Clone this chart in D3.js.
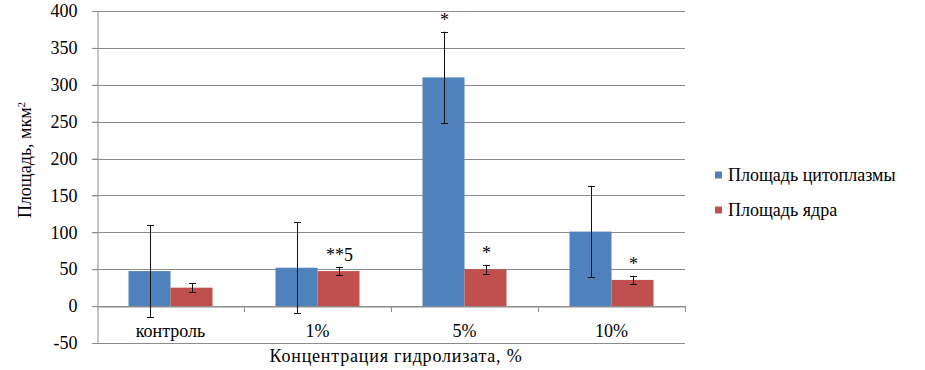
<!DOCTYPE html>
<html>
<head>
<meta charset="utf-8">
<script src="https://cdn.jsdelivr.net/npm/d3@7"></script>
<style>
  body { margin: 0; background: #fff; }
  svg text { font-family: "Liberation Serif", "Times New Roman", Times, Tinos, "DejaVu Serif", "Noto Serif", serif; fill: #000; }
</style>
</head>
<body>
<div id="chart"></div>
<script>
// Данные
const categories = ["контроль", "1%", "5%", "10%"];
const seriesNames = ["Площадь цитоплазмы", "Площадь ядра"];
const cytoplasm = [47.5, 52, 310, 101];
const cytoplasmErr = [62, 62, 62, 62];
const nucleus = [25, 47.5, 50, 35.5];
const nucleusErr = [5.7, 5.7, 6.1, 5.6];
const cytoplasmMarks = ["", "", "*", ""];
const nucleusMarks = ["", "**5", "*", "*"];
const yTicks = [-50, 0, 50, 100, 150, 200, 250, 300, 350, 400];
const colors = ["#4F81BD", "#C0504D"];

const width = 925;
const height = 370;
const margin = { top: 11, right: 240, bottom: 27, left: 97 };
const serif = '"Liberation Serif", "Times New Roman", Times, Tinos, "DejaVu Serif", "Noto Serif", serif';
const fs = 18;

const series = [
  { name: seriesNames[0], values: cytoplasm, err: cytoplasmErr, marks: cytoplasmMarks, color: colors[0] },
  { name: seriesNames[1], values: nucleus, err: nucleusErr, marks: nucleusMarks, color: colors[1] }
];

const svg = d3.select("#chart")
  .append("svg")
  .attr("width", width)
  .attr("height", height)
  .style("font-family", serif);

// Шкалы
const x = d3.scaleBand()
  .domain(categories)
  .range([margin.left, width - margin.right])
  .padding(0);

const groupWidth = 84;
const x1 = d3.scaleBand()
  .domain(seriesNames)
  .range([0, groupWidth])
  .padding(0);

const y = d3.scaleLinear()
  .domain([-50, 400])
  .range([height - margin.bottom, margin.top]);

// Сетка
svg.append("g")
  .selectAll("line")
  .data(yTicks)
  .enter()
  .append("line")
  .attr("x1", margin.left - 5)
  .attr("x2", width - margin.right)
  .attr("y1", (d) => Math.round(y(d)) + 0.5)
  .attr("y2", (d) => Math.round(y(d)) + 0.5)
  .style("stroke", "#8c8c8c")
  .style("stroke-width", 1);

// Ось Y
const yAxis = svg.append("g")
  .attr("transform", `translate(${margin.left + 0.5},0)`)
  .call(d3.axisLeft(y).tickValues(yTicks).tickSize(5).tickPadding(15).tickFormat((d) => String(d)));
yAxis.attr("font-family", serif).attr("font-size", fs);
yAxis.select(".domain").style("stroke", "#8c8c8c");
yAxis.selectAll(".tick line").style("stroke", "#8c8c8c");

// Столбцы
const groups = svg.append("g")
  .selectAll("g")
  .data(categories)
  .enter()
  .append("g")
  .attr("transform", (d) => `translate(${x(d) + (x.bandwidth() - groupWidth) / 2},0)`);

series.forEach((s) => {
  groups.append("rect")
    .attr("x", (d) => x1(s.name))
    .attr("y", (d, i) => Math.min(y(s.values[i]), y(0)))
    .attr("width", x1.bandwidth())
    .attr("height", (d, i) => Math.abs(y(0) - y(s.values[i])))
    .style("fill", s.color);
});

// Ось X (категории) по нулю
const xAxis = svg.append("g")
  .attr("transform", `translate(0,${Math.round(y(0)) + 0.5})`)
  .call(d3.axisBottom(x).tickSize(0).tickPadding(18));
xAxis.attr("font-family", serif).attr("font-size", fs);
xAxis.select(".domain").style("stroke", "#8c8c8c");

// Деления между категориями
svg.append("g")
  .selectAll("line")
  .data(categories)
  .enter()
  .append("line")
  .attr("x1", (d) => Math.round(x(d) + x.bandwidth()) + 0.5)
  .attr("x2", (d) => Math.round(x(d) + x.bandwidth()) + 0.5)
  .attr("y1", y(0))
  .attr("y2", y(0) + 6)
  .style("stroke", "#8c8c8c");

// Планки погрешностей и отметки
series.forEach((s) => {
  const cx = (i) => x(categories[i]) + (x.bandwidth() - groupWidth) / 2 + x1(s.name) + x1.bandwidth() / 2;
  const g = svg.append("g");
  categories.forEach((c, i) => {
    const xc = Math.round(cx(i)) + 0.5;
    const top = y(s.values[i] + s.err[i]);
    const bot = y(s.values[i] - s.err[i]);
    g.append("line").attr("x1", xc).attr("x2", xc).attr("y1", top).attr("y2", bot)
      .style("stroke", "#111").style("stroke-width", 1);
    [top, bot].forEach((yy) => {
      g.append("line").attr("x1", xc - 3.5).attr("x2", xc + 3.5)
        .attr("y1", Math.round(yy) + 0.5).attr("y2", Math.round(yy) + 0.5)
        .style("stroke", "#111").style("stroke-width", 1);
    });
    if (s.marks[i]) {
      g.append("text")
        .attr("x", xc)
        .attr("y", top - 6)
        .attr("text-anchor", "middle")
        .style("font-size", fs + "px")
        .text(s.marks[i]);
    }
  });
});

// Подписи осей
svg.append("text")
  .attr("x", (margin.left + width - margin.right) / 2 + 5)
  .attr("y", 362)
  .attr("text-anchor", "middle")
  .style("font-size", fs + "px")
  .style("letter-spacing", "0.8px")
  .text("Концентрация гидролизата, %");

const yTitle = svg.append("text")
  .attr("transform", `translate(31,160) rotate(-90)`)
  .attr("text-anchor", "middle")
  .style("font-size", fs + "px");
yTitle.append("tspan").text("Площадь, мкм");
yTitle.append("tspan").attr("dy", -6).style("font-size", "11px").text("2");

// Легенда
const legend = svg.append("g")
  .selectAll("g")
  .data(series)
  .enter()
  .append("g")
  .attr("transform", (d, i) => `translate(715,${175 + i * 35})`);
legend.append("rect")
  .attr("x", 0)
  .attr("y", -3.5)
  .attr("width", 7)
  .attr("height", 7)
  .style("fill", (d) => d.color);
legend.append("text")
  .attr("x", 13)
  .attr("y", 6)
  .style("font-size", fs + "px")
  .text((d) => d.name);
</script>
</body>
</html>
